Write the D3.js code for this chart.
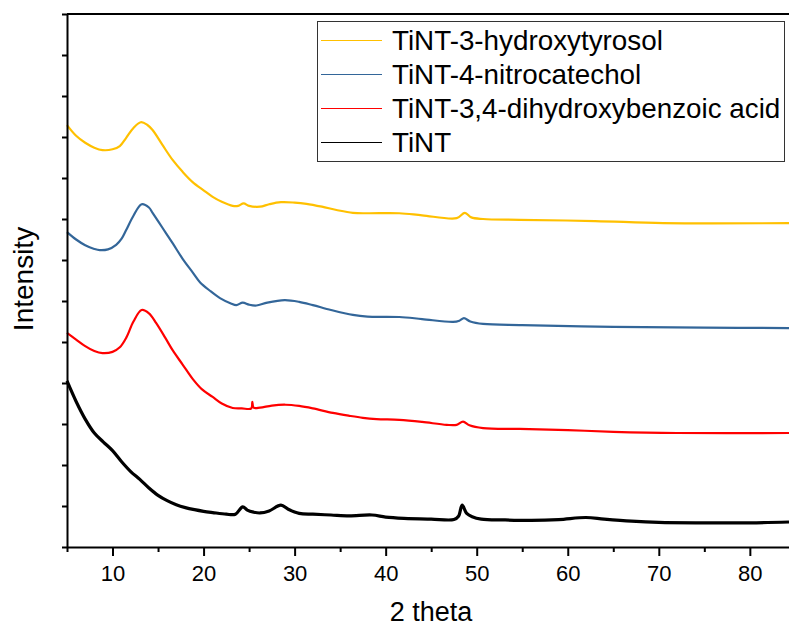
<!DOCTYPE html>
<html>
<head>
<meta charset="utf-8">
<script src="https://cdn.jsdelivr.net/npm/d3@7"></script>
<style>
  body { margin: 0; background: #fff; }
  text { font-family: Arial, "Liberation Sans", sans-serif; }
</style>
</head>
<body>
<div id="chart"></div>
<script>
// XRD patterns (2 theta, intensity in arbitrary units)
const tint = [
  [5.0, 405], [6.0, 355], [7.0, 312], [8.0, 278], [9.0, 256], [10.0, 235], [11.0, 208],
  [12.0, 184], [13.0, 165], [14.0, 144], [15.0, 126], [16.0, 113], [17.0, 103], [18.0, 96],
  [19.0, 91], [20.0, 87], [21.0, 84], [22.5, 80], [23.5, 80], [24.3, 98], [24.8, 90],
  [25.5, 85], [26.2, 83], [27.2, 88], [28.5, 102], [29.3, 92], [30.5, 82], [32.0, 80],
  [34.0, 78], [36.0, 76], [38.5, 78], [40.0, 73], [42.0, 70], [45.0, 68], [47.5, 67],
  [48.0, 75], [48.4, 102], [48.9, 82], [49.5, 74], [50.5, 68], [53.0, 66], [56.0, 65],
  [59.0, 67], [62.0, 72], [64.0, 68], [67.0, 63], [70.0, 60], [75.0, 59], [80.0, 59], [84.3, 61]
];

const dhba = [
  [5.0, 522], [6.0, 506], [7.0, 490], [8.0, 478], [8.9, 473], [10.0, 476], [10.8, 487],
  [11.5, 510], [12.3, 550], [13.2, 578], [14.0, 570], [14.8, 546], [15.8, 510], [16.6, 480],
  [17.7, 445], [18.8, 410], [19.8, 385], [21.0, 366], [22.0, 350], [23.2, 339], [24.2, 338],
  [25.25, 338], [25.35, 354], [25.5, 340], [26.2, 340], [27.5, 345], [29.0, 347], [30.5, 344],
  [32.0, 338], [34.2, 327], [36.0, 320], [37.5, 315], [39.0, 312], [41.5, 310], [44.0, 305],
  [46.7, 298], [47.8, 298], [48.5, 306], [49.2, 297], [50.7, 290], [54.7, 288], [60.0, 285],
  [65.0, 281], [72.0, 278], [84.3, 278]
];

const nitro = [
  [5.0, 768], [6.0, 750], [7.0, 736], [8.0, 727], [8.6, 724], [9.5, 726], [10.4, 737],
  [11.0, 752], [11.5, 773], [12.3, 808], [13.2, 836], [14.0, 828], [14.4, 815], [15.5, 778],
  [16.6, 741], [17.7, 703], [18.8, 670], [19.6, 646], [20.7, 625], [21.8, 607], [23.0, 594],
  [23.6, 590], [24.3, 596], [25.0, 591], [25.8, 589], [27.0, 596], [28.9, 602], [30.5, 598],
  [32.0, 590], [34.0, 578], [36.4, 566], [38.0, 562], [41.5, 561], [44.0, 556], [47.4, 549],
  [48.1, 552], [48.6, 558], [49.3, 550], [50.7, 544], [55.0, 541], [65.0, 537], [75.0, 535],
  [84.3, 534]
];

const hydroxy = [
  [5.0, 1029], [6.0, 1003], [7.0, 986], [8.0, 974], [8.9, 968], [10.0, 970], [10.8, 978],
  [11.5, 998], [12.3, 1022], [13.1, 1036], [13.8, 1030], [14.4, 1017], [15.5, 980],
  [16.6, 944], [17.7, 915], [18.8, 890], [20.0, 870], [21.0, 854], [22.0, 842], [23.2, 832],
  [23.8, 832], [24.4, 838], [25.0, 832], [26.2, 830], [27.2, 836], [28.5, 841], [30.0, 840],
  [31.3, 837], [33.0, 830], [34.6, 822], [36.4, 815], [38.0, 814], [41.5, 814], [44.0, 809],
  [47.8, 802], [48.7, 815], [49.4, 804], [50.7, 800], [54.7, 798], [63.0, 795], [70.5, 790],
  [84.3, 790]
];

const seriesNames = [
  "TiNT-3-hydroxytyrosol",
  "TiNT-4-nitrocatechol",
  "TiNT-3,4-dihydroxybenzoic acid",
  "TiNT"
];
const seriesColors = ["#FFC000", "#336699", "#FF0000", "#000000"];
const seriesData = [hydroxy, nitro, dhba, tint];

const xMajor = [10, 20, 30, 40, 50, 60, 70, 80];
const xMinor = [5, 15, 25, 35, 45, 55, 65, 75];
const yTicks = d3.range(0, 1301, 100);

const width = 789;
const height = 626;
const plotLeft = 67, plotRight = 789, plotTop = 14, plotBottom = 547;

const svg = d3.select("#chart")
  .append("svg")
  .attr("width", width)
  .attr("height", height);

const x = d3.scaleLinear().domain([5, 84.3]).range([plotLeft, plotRight]);
const y = d3.scaleLinear().domain([0, 1300]).range([plotBottom, plotTop]);

const line = d3.line()
  .x(d => x(d[0]))
  .y(d => y(d[1]))
  .curve(d3.curveCatmullRom.alpha(0.5));

// curves, black one drawn last so it sits on top
seriesData.forEach((s, i) => {
  svg.append("path")
    .datum(s)
    .attr("fill", "none")
    .attr("stroke", seriesColors[i])
    .attr("stroke-width", i === 3 ? 3.2 : 2.2)
    .attr("stroke-linejoin", "round")
    .attr("d", line);
});

// x axis: labelled major ticks + minor ticks
const gx = svg.append("g")
  .attr("transform", `translate(0,${plotBottom})`)
  .call(d3.axisBottom(x).tickValues(xMajor).tickSize(9).tickSizeOuter(0).tickPadding(9));

svg.append("g")
  .attr("transform", `translate(0,${plotBottom})`)
  .call(d3.axisBottom(x).tickValues(xMinor).tickSize(5).tickFormat(""))
  .select(".domain").remove();

gx.selectAll("text")
  .attr("font-size", "22px")
  .attr("font-family", "Arial, 'Liberation Sans', sans-serif")
  .attr("fill", "#000");

// y axis without labels
svg.append("g")
  .attr("transform", `translate(${plotLeft},0)`)
  .call(d3.axisLeft(y).tickValues(yTicks).tickSize(5).tickSizeOuter(0).tickFormat(""));

svg.selectAll(".domain").attr("stroke", "#000").attr("stroke-width", 2);
svg.selectAll(".tick line").attr("stroke", "#000").attr("stroke-width", 2);

// top frame line
svg.append("line")
  .attr("x1", plotLeft).attr("x2", plotRight)
  .attr("y1", plotTop).attr("y2", plotTop)
  .attr("stroke", "#000")
  .attr("stroke-width", 2);

// axis titles
svg.append("text")
  .attr("x", 431)
  .attr("y", 621)
  .attr("text-anchor", "middle")
  .attr("font-size", "27px")
  .text("2 theta");

svg.append("text")
  .attr("transform", "translate(33,279) rotate(-90)")
  .attr("text-anchor", "middle")
  .attr("font-size", "28px")
  .text("Intensity");

// legend
const legend = svg.append("g");

legend.append("rect")
  .attr("x", 317.5).attr("y", 21.5)
  .attr("width", 467).attr("height", 140)
  .attr("fill", "#fff")
  .attr("stroke", "#333")
  .attr("stroke-width", 1);

seriesNames.forEach((name, i) => {
  const ly = 40.5 + i * 34;
  legend.append("line")
    .attr("x1", 321).attr("x2", 382)
    .attr("y1", ly).attr("y2", ly)
    .attr("stroke", seriesColors[i])
    .attr("stroke-width", 1.2);
  legend.append("text")
    .attr("x", 392)
    .attr("y", ly + 9.5)
    .attr("font-size", "27.8px")
    .attr("fill", "#000")
    .text(name);
});
</script>
</body>
</html>
